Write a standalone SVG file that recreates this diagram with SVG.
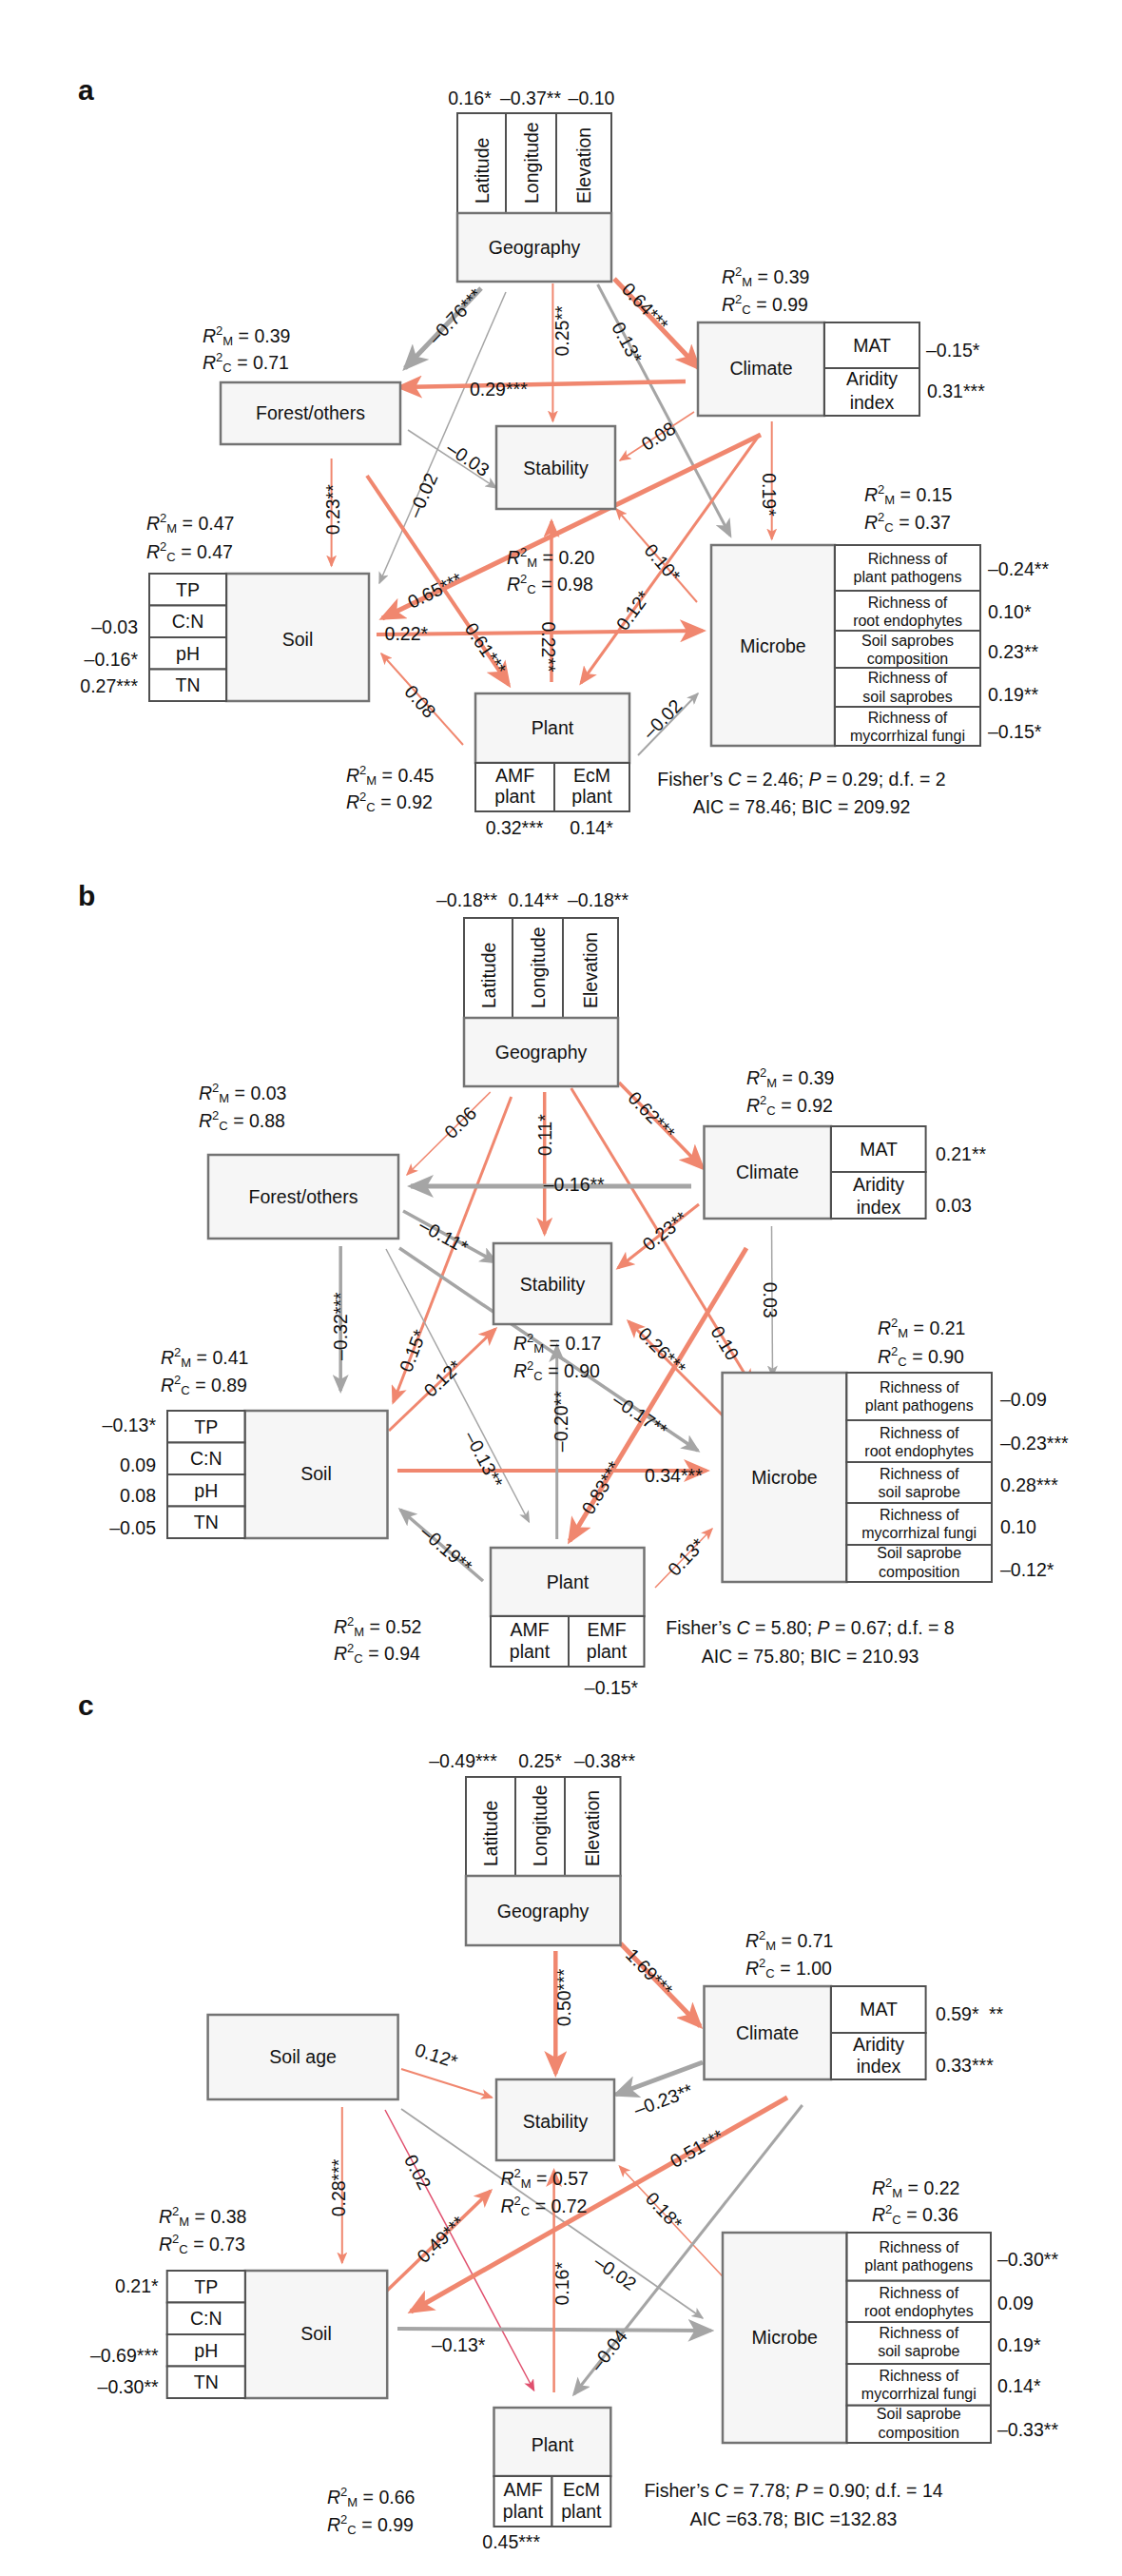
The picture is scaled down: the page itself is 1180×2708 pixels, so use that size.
<svg xmlns="http://www.w3.org/2000/svg" width="1180" height="2708" viewBox="0 0 1180 2708">
<style>
.t{font-family:"Liberation Sans",Arial,Helvetica,sans-serif;font-size:19.5px;fill:#111}
.c{text-anchor:middle}
.e{text-anchor:end}
.i{font-style:italic}
.sup{font-size:13px}
.r{font-size:16px}
.h{font-family:"Liberation Sans",Arial,sans-serif;font-size:30px;font-weight:bold;fill:#111}
.box{fill:#F6F6F6;stroke:#737373;stroke-width:2.5}
.cell{fill:#FFFFFF;stroke:#505050;stroke-width:2}
.s{stroke:#F0876F;fill:none}
.g{stroke:#A5A5A5;fill:none}
.p{stroke:#E0506E;fill:none}
</style>
<defs>
<marker id="sL" markerUnits="userSpaceOnUse" markerWidth="28" markerHeight="24" viewBox="0 0 28 24" refX="24" refY="12" orient="auto"><path d="M28,12 L0,0 L7,12 L0,24 Z" fill="#F0876F"/></marker>
<marker id="sM" markerUnits="userSpaceOnUse" markerWidth="20" markerHeight="17" viewBox="0 0 20 17" refX="17" refY="8.5" orient="auto"><path d="M20,8.5 L0,0 L5,8.5 L0,17 Z" fill="#F0876F"/></marker>
<marker id="sS" markerUnits="userSpaceOnUse" markerWidth="13" markerHeight="11" viewBox="0 0 13 11" refX="11.5" refY="5.5" orient="auto"><path d="M13,5.5 L0,0 L3.2,5.5 L0,11 Z" fill="#F0876F"/></marker>
<marker id="gL" markerUnits="userSpaceOnUse" markerWidth="28" markerHeight="24" viewBox="0 0 28 24" refX="24" refY="12" orient="auto"><path d="M28,12 L0,0 L7,12 L0,24 Z" fill="#A5A5A5"/></marker>
<marker id="gM" markerUnits="userSpaceOnUse" markerWidth="20" markerHeight="17" viewBox="0 0 20 17" refX="17" refY="8.5" orient="auto"><path d="M20,8.5 L0,0 L5,8.5 L0,17 Z" fill="#A5A5A5"/></marker>
<marker id="gS" markerUnits="userSpaceOnUse" markerWidth="13" markerHeight="11" viewBox="0 0 13 11" refX="11.5" refY="5.5" orient="auto"><path d="M13,5.5 L0,0 L3.2,5.5 L0,11 Z" fill="#A5A5A5"/></marker>
<marker id="pS" markerUnits="userSpaceOnUse" markerWidth="13" markerHeight="11" viewBox="0 0 13 11" refX="11.5" refY="5.5" orient="auto"><path d="M13,5.5 L0,0 L3.2,5.5 L0,11 Z" fill="#E0506E"/></marker>
</defs>
<rect x="0" y="0" width="1180" height="2708" fill="#FFFFFF"/>

<!-- ================= PANEL A ================= -->
<text class="h" x="82" y="105">a</text>
<g id="a-connectors">
<line class="g" x1="506" y1="303" x2="426" y2="387" stroke-width="5" marker-end="url(#gL)"/>
<line class="g" x1="532" y1="307" x2="399" y2="613" stroke-width="1.5" marker-end="url(#gS)"/>
<line class="s" x1="581.4" y1="298" x2="581.4" y2="443" stroke-width="2" marker-end="url(#sS)"/>
<line class="s" x1="646" y1="293" x2="735" y2="387" stroke-width="5" marker-end="url(#sL)"/>
<line class="g" x1="628.6" y1="299" x2="768" y2="563" stroke-width="3" marker-end="url(#gM)"/>
<line class="s" x1="721" y1="401" x2="420" y2="407" stroke-width="4.5" marker-end="url(#sL)"/>
<line class="s" x1="730" y1="433" x2="652" y2="484" stroke-width="1.5" marker-end="url(#sS)"/>
<line class="s" x1="811.7" y1="443" x2="811.7" y2="567" stroke-width="2" marker-end="url(#sS)"/>
<line class="s" x1="800" y1="457" x2="402" y2="650" stroke-width="5" marker-end="url(#sL)"/>
<line class="s" x1="798" y1="458" x2="611" y2="718" stroke-width="3" marker-end="url(#sM)"/>
<line class="g" x1="429" y1="452" x2="522" y2="513" stroke-width="1.5" stroke="#8C8C8C" marker-end="url(#gS)"/>
<line class="s" x1="348.6" y1="482" x2="348.6" y2="595" stroke-width="2" marker-end="url(#sS)"/>
<line class="s" x1="386" y1="500" x2="535" y2="720" stroke-width="4" marker-end="url(#sL)"/>
<line class="s" x1="396" y1="667" x2="739" y2="663" stroke-width="4" marker-end="url(#sL)"/>
<line class="s" x1="580" y1="717" x2="580" y2="548" stroke-width="3.5" marker-end="url(#sM)"/>
<line class="s" x1="487" y1="783" x2="401" y2="687" stroke-width="2" marker-end="url(#sS)"/>
<line class="g" x1="671" y1="794" x2="734" y2="729" stroke-width="2" stroke="#8C8C8C" marker-end="url(#gS)"/>
<line class="s" x1="733" y1="633" x2="648" y2="535" stroke-width="2" marker-end="url(#sS)"/>
</g>

<g id="a-geography">
<rect class="cell" x="481" y="119" width="51" height="105"/>
<rect class="cell" x="532" y="119" width="53" height="105"/>
<rect class="cell" x="585" y="119" width="58" height="105"/>
<rect class="box" x="481" y="224" width="162" height="72"/>
<text class="t" transform="translate(513.5,214) rotate(-90)">Latitude</text>
<text class="t" transform="translate(565.5,214) rotate(-90)">Longitude</text>
<text class="t" transform="translate(621,214) rotate(-90)">Elevation</text>
<text class="t c" x="562" y="267">Geography</text>
<text class="t c" x="494" y="110">0.16*</text>
<text class="t c" x="558" y="110">–0.37**</text>
<text class="t c" x="622" y="110">–0.10</text>
</g>
<g id="a-forest">
<rect class="box" x="232" y="402" width="189" height="65"/>
<text class="t c" x="326.5" y="441">Forest/others</text>
<text class="t" x="213" y="360"><tspan class="i">R</tspan><tspan class="sup" dy="-8">2</tspan><tspan class="sup" dy="11">M</tspan><tspan dy="-3"> = 0.39</tspan></text>
<text class="t" x="213" y="388"><tspan class="i">R</tspan><tspan class="sup" dy="-8">2</tspan><tspan class="sup" dy="11">C</tspan><tspan dy="-3"> = 0.71</tspan></text>
</g>
<g id="a-climate">
<rect class="box" x="734" y="339" width="133" height="98"/>
<rect class="cell" x="867" y="339" width="100" height="48"/>
<rect class="cell" x="867" y="387" width="100" height="50"/>
<text class="t c" x="800.5" y="394">Climate</text>
<text class="t c" x="917" y="370">MAT</text>
<text class="t c" x="917" y="405">Aridity</text>
<text class="t c" x="917" y="430">index</text>
<text class="t" x="974" y="375">–0.15*</text>
<text class="t" x="975" y="418">0.31***</text>
<text class="t" x="759" y="298"><tspan class="i">R</tspan><tspan class="sup" dy="-8">2</tspan><tspan class="sup" dy="11">M</tspan><tspan dy="-3"> = 0.39</tspan></text>
<text class="t" x="759" y="327"><tspan class="i">R</tspan><tspan class="sup" dy="-8">2</tspan><tspan class="sup" dy="11">C</tspan><tspan dy="-3"> = 0.99</tspan></text>
</g>
<g id="a-stability">
<rect class="box" x="522" y="448" width="125" height="87"/>
<text class="t c" x="584.5" y="498.5">Stability</text>
<text class="t" x="533" y="593"><tspan class="i">R</tspan><tspan class="sup" dy="-8">2</tspan><tspan class="sup" dy="11">M</tspan><tspan dy="-3"> = 0.20</tspan></text>
<text class="t" x="533" y="621"><tspan class="i">R</tspan><tspan class="sup" dy="-8">2</tspan><tspan class="sup" dy="11">C</tspan><tspan dy="-3"> = 0.98</tspan></text>
</g>
<g id="a-soil">
<rect class="box" x="238" y="603" width="150" height="134"/>
<rect class="cell" x="157" y="603" width="81" height="33.5"/>
<rect class="cell" x="157" y="636.5" width="81" height="33.5"/>
<rect class="cell" x="157" y="670" width="81" height="33.5"/>
<rect class="cell" x="157" y="703.5" width="81" height="33.5"/>
<text class="t c" x="197.5" y="627">TP</text>
<text class="t c" x="197.5" y="660">C:N</text>
<text class="t c" x="197.5" y="694">pH</text>
<text class="t c" x="197.5" y="727">TN</text>
<text class="t c" x="313" y="679">Soil</text>
<text class="t e" x="145" y="666">–0.03</text>
<text class="t e" x="145" y="700">–0.16*</text>
<text class="t e" x="145" y="728">0.27***</text>
<text class="t" x="154" y="557"><tspan class="i">R</tspan><tspan class="sup" dy="-8">2</tspan><tspan class="sup" dy="11">M</tspan><tspan dy="-3"> = 0.47</tspan></text>
<text class="t" x="154" y="587"><tspan class="i">R</tspan><tspan class="sup" dy="-8">2</tspan><tspan class="sup" dy="11">C</tspan><tspan dy="-3"> = 0.47</tspan></text>
</g>
<g id="a-plant">
<rect class="box" x="500" y="729" width="162" height="73"/>
<rect class="cell" x="500" y="802" width="83" height="51"/>
<rect class="cell" x="583" y="802" width="79" height="51"/>
<text class="t c" x="581" y="772">Plant</text>
<text class="t c" x="541.5" y="822">AMF</text>
<text class="t c" x="541.5" y="844">plant</text>
<text class="t c" x="622.5" y="822">EcM</text>
<text class="t c" x="622.5" y="844">plant</text>
<text class="t c" x="541" y="877">0.32***</text>
<text class="t c" x="622" y="877">0.14*</text>
<text class="t" x="364" y="822"><tspan class="i">R</tspan><tspan class="sup" dy="-8">2</tspan><tspan class="sup" dy="11">M</tspan><tspan dy="-3"> = 0.45</tspan></text>
<text class="t" x="364" y="850"><tspan class="i">R</tspan><tspan class="sup" dy="-8">2</tspan><tspan class="sup" dy="11">C</tspan><tspan dy="-3"> = 0.92</tspan></text>
</g>
<g id="a-microbe">
<rect class="box" x="748" y="573" width="130" height="211"/>
<rect class="cell" x="878" y="573" width="153" height="48"/>
<rect class="cell" x="878" y="621" width="153" height="42"/>
<rect class="cell" x="878" y="663" width="153" height="39"/>
<rect class="cell" x="878" y="702" width="153" height="41"/>
<rect class="cell" x="878" y="743" width="153" height="41"/>
<text class="t r c" x="954.5" y="592.7">Richness of</text>
<text class="t r c" x="954.5" y="611.7">plant pathogens</text>
<text class="t r c" x="954.5" y="639.3">Richness of</text>
<text class="t r c" x="954.5" y="658.3">root endophytes</text>
<text class="t r c" x="954.5" y="679.3">Soil saprobes</text>
<text class="t r c" x="954.5" y="698.3">composition</text>
<text class="t r c" x="954.5" y="718.3">Richness of</text>
<text class="t r c" x="954.5" y="738.3">soil saprobes</text>
<text class="t r c" x="954.5" y="760">Richness of</text>
<text class="t r c" x="954.5" y="779.3">mycorrhizal fungi</text>
<text class="t c" x="813" y="686">Microbe</text>
<text class="t" x="1039" y="605">–0.24**</text>
<text class="t" x="1039" y="650">0.10*</text>
<text class="t" x="1039" y="692">0.23**</text>
<text class="t" x="1039" y="737">0.19**</text>
<text class="t" x="1039" y="776">–0.15*</text>
<text class="t" x="909" y="527"><tspan class="i">R</tspan><tspan class="sup" dy="-8">2</tspan><tspan class="sup" dy="11">M</tspan><tspan dy="-3"> = 0.15</tspan></text>
<text class="t" x="909" y="556"><tspan class="i">R</tspan><tspan class="sup" dy="-8">2</tspan><tspan class="sup" dy="11">C</tspan><tspan dy="-3"> = 0.37</tspan></text>
</g>
<g id="a-fit">
<text class="t c" x="843" y="826">Fisher’s <tspan class="i">C</tspan> = 2.46; <tspan class="i">P</tspan> = 0.29; d.f. = 2</text>
<text class="t c" x="843" y="855">AIC = 78.46; BIC = 209.92</text>
</g>
<g id="a-edge-labels">
<text class="t c" transform="translate(478.6,332.3) rotate(-46.4)" y="7">–0.76***</text>
<text class="t c" transform="translate(444.6,520.7) rotate(-66.5)" y="7">–0.02</text>
<text class="t c" transform="translate(591,348) rotate(-90)" y="7">0.25**</text>
<text class="t c" transform="translate(678.6,322.3) rotate(46.7)" y="7">0.64***</text>
<text class="t c" transform="translate(659.6,360) rotate(62.2)" y="7">0.13*</text>
<text class="t" x="494" y="416">0.29***</text>
<text class="t c" transform="translate(692.3,458.3) rotate(-33)" y="7">0.08</text>
<text class="t c" transform="translate(809,520) rotate(90)" y="7">0.19*</text>
<text class="t c" transform="translate(457.3,620.7) rotate(-25.9)" y="7">0.65***</text>
<text class="t c" transform="translate(665.7,641.7) rotate(-54.3)" y="7">0.12*</text>
<text class="t c" transform="translate(492.3,482.3) rotate(33.7)" y="7">–0.03</text>
<text class="t c" transform="translate(350,535.8) rotate(-90)" y="7">0.23**</text>
<text class="t c" transform="translate(510.7,681.7) rotate(55.9)" y="7">0.61***</text>
<text class="t" x="404.6" y="673">0.22*</text>
<text class="t c" transform="translate(577,680) rotate(90)" y="7">0.22**</text>
<text class="t c" transform="translate(442.1,737.3) rotate(48.4)" y="7">0.08</text>
<text class="t c" transform="translate(696.4,755.7) rotate(-45.6)" y="7">–0.02</text>
<text class="t c" transform="translate(696.7,591.7) rotate(49)" y="7">0.10*</text>
</g>

<!-- ================= PANEL B ================= -->
<text class="h" x="82" y="952">b</text>
<g id="b-connectors">
<line class="s" x1="515.7" y1="1148" x2="428" y2="1235" stroke-width="1.5" marker-end="url(#sS)"/>
<line class="s" x1="537.7" y1="1153" x2="413.6" y2="1474" stroke-width="3" marker-end="url(#sM)"/>
<line class="s" x1="572.7" y1="1148" x2="572.7" y2="1297" stroke-width="3.5" marker-end="url(#sM)"/>
<line class="s" x1="651" y1="1138" x2="739" y2="1228" stroke-width="3.5" marker-end="url(#sL)"/>
<line class="s" x1="600.7" y1="1144" x2="791" y2="1457" stroke-width="3" marker-end="url(#sM)"/>
<line class="g" x1="727" y1="1247" x2="432" y2="1247" stroke-width="5" marker-end="url(#gL)"/>
<line class="s" x1="735" y1="1266" x2="650" y2="1333" stroke-width="3" marker-end="url(#sM)"/>
<line class="g" x1="811.5" y1="1289" x2="812.5" y2="1447" stroke-width="1.5" marker-end="url(#gS)"/>
<line class="g" x1="358.2" y1="1310" x2="358.2" y2="1462" stroke-width="3.5" marker-end="url(#gM)"/>
<line class="g" x1="424" y1="1273" x2="522" y2="1327" stroke-width="3.5" marker-end="url(#gM)"/>
<line class="g" x1="420" y1="1312" x2="734" y2="1525" stroke-width="3.5" marker-end="url(#gM)"/>
<line class="g" x1="406" y1="1313" x2="556.4" y2="1600" stroke-width="1.5" marker-end="url(#gS)"/>
<line class="s" x1="409" y1="1504" x2="521" y2="1397" stroke-width="3" marker-end="url(#sM)"/>
<line class="s" x1="418" y1="1546" x2="743" y2="1546" stroke-width="4" marker-end="url(#sL)"/>
<line class="g" x1="508" y1="1662" x2="421" y2="1587" stroke-width="3.5" marker-end="url(#gM)"/>
<line class="g" x1="585.7" y1="1618" x2="585.7" y2="1415" stroke-width="3" marker-end="url(#gM)"/>
<line class="s" x1="785" y1="1312" x2="599" y2="1620" stroke-width="5" marker-end="url(#sL)"/>
<line class="s" x1="764" y1="1492" x2="661" y2="1389" stroke-width="3" marker-end="url(#sM)"/>
<line class="s" x1="689" y1="1669" x2="749" y2="1607" stroke-width="1.5" marker-end="url(#sS)"/>
</g>
<g id="b-geography">
<rect class="cell" x="488" y="965" width="51" height="105"/>
<rect class="cell" x="539" y="965" width="53" height="105"/>
<rect class="cell" x="592" y="965" width="58" height="105"/>
<rect class="box" x="488" y="1070" width="162" height="72"/>
<text class="t" transform="translate(520.5,1060) rotate(-90)">Latitude</text>
<text class="t" transform="translate(572.5,1060) rotate(-90)">Longitude</text>
<text class="t" transform="translate(628,1060) rotate(-90)">Elevation</text>
<text class="t c" x="569" y="1113">Geography</text>
<text class="t c" x="491" y="953">–0.18**</text>
<text class="t c" x="561" y="953">0.14**</text>
<text class="t c" x="629" y="953">–0.18**</text>
</g>
<g id="b-forest">
<rect class="box" x="219" y="1214" width="200" height="88"/>
<text class="t c" x="319" y="1265">Forest/others</text>
<text class="t" x="209" y="1156"><tspan class="i">R</tspan><tspan class="sup" dy="-8">2</tspan><tspan class="sup" dy="11">M</tspan><tspan dy="-3"> = 0.03</tspan></text>
<text class="t" x="209" y="1185"><tspan class="i">R</tspan><tspan class="sup" dy="-8">2</tspan><tspan class="sup" dy="11">C</tspan><tspan dy="-3"> = 0.88</tspan></text>
</g>
<g id="b-climate">
<rect class="box" x="740.5" y="1184" width="133.5" height="97"/>
<rect class="cell" x="874" y="1184" width="99.6" height="48"/>
<rect class="cell" x="874" y="1232" width="99.6" height="49"/>
<text class="t c" x="807" y="1239">Climate</text>
<text class="t c" x="924" y="1215">MAT</text>
<text class="t c" x="924" y="1252">Aridity</text>
<text class="t c" x="924" y="1276">index</text>
<text class="t" x="984" y="1220">0.21**</text>
<text class="t" x="984" y="1274">0.03</text>
<text class="t" x="785" y="1140"><tspan class="i">R</tspan><tspan class="sup" dy="-8">2</tspan><tspan class="sup" dy="11">M</tspan><tspan dy="-3"> = 0.39</tspan></text>
<text class="t" x="785" y="1169"><tspan class="i">R</tspan><tspan class="sup" dy="-8">2</tspan><tspan class="sup" dy="11">C</tspan><tspan dy="-3"> = 0.92</tspan></text>
</g>
<g id="b-stability">
<rect class="box" x="519" y="1307" width="124" height="85"/>
<text class="t c" x="581" y="1356.5">Stability</text>
<text class="t" x="540" y="1419"><tspan class="i">R</tspan><tspan class="sup" dy="-8">2</tspan><tspan class="sup" dy="11">M</tspan><tspan dy="-3"> = 0.17</tspan></text>
<text class="t" x="540" y="1448"><tspan class="i">R</tspan><tspan class="sup" dy="-8">2</tspan><tspan class="sup" dy="11">C</tspan><tspan dy="-3"> = 0.90</tspan></text>
</g>
<g id="b-soil">
<rect class="box" x="257.5" y="1483" width="150" height="134"/>
<rect class="cell" x="176" y="1483" width="81.5" height="33.5"/>
<rect class="cell" x="176" y="1516.5" width="81.5" height="33.5"/>
<rect class="cell" x="176" y="1550" width="81.5" height="33.5"/>
<rect class="cell" x="176" y="1583.5" width="81.5" height="33.5"/>
<text class="t c" x="216.8" y="1507">TP</text>
<text class="t c" x="216.8" y="1540">C:N</text>
<text class="t c" x="216.8" y="1574">pH</text>
<text class="t c" x="216.8" y="1607">TN</text>
<text class="t c" x="332.5" y="1556">Soil</text>
<text class="t e" x="164" y="1505">–0.13*</text>
<text class="t e" x="164" y="1547">0.09</text>
<text class="t e" x="164" y="1579">0.08</text>
<text class="t e" x="164" y="1613">–0.05</text>
<text class="t" x="169" y="1434"><tspan class="i">R</tspan><tspan class="sup" dy="-8">2</tspan><tspan class="sup" dy="11">M</tspan><tspan dy="-3"> = 0.41</tspan></text>
<text class="t" x="169" y="1463"><tspan class="i">R</tspan><tspan class="sup" dy="-8">2</tspan><tspan class="sup" dy="11">C</tspan><tspan dy="-3"> = 0.89</tspan></text>
</g>
<g id="b-plant">
<rect class="box" x="516" y="1627" width="161.5" height="72"/>
<rect class="cell" x="516" y="1699" width="82" height="53"/>
<rect class="cell" x="598" y="1699" width="79.5" height="53"/>
<text class="t c" x="597" y="1670">Plant</text>
<text class="t c" x="557" y="1720">AMF</text>
<text class="t c" x="557" y="1743">plant</text>
<text class="t c" x="638" y="1720">EMF</text>
<text class="t c" x="638" y="1743">plant</text>
<text class="t c" x="643" y="1781">–0.15*</text>
<text class="t" x="351" y="1717"><tspan class="i">R</tspan><tspan class="sup" dy="-8">2</tspan><tspan class="sup" dy="11">M</tspan><tspan dy="-3"> = 0.52</tspan></text>
<text class="t" x="351" y="1745"><tspan class="i">R</tspan><tspan class="sup" dy="-8">2</tspan><tspan class="sup" dy="11">C</tspan><tspan dy="-3"> = 0.94</tspan></text>
</g>
<g id="b-microbe">
<rect class="box" x="759.6" y="1443" width="130.8" height="220"/>
<rect class="cell" x="890.4" y="1443" width="152.6" height="50"/>
<rect class="cell" x="890.4" y="1493" width="152.6" height="44"/>
<rect class="cell" x="890.4" y="1537" width="152.6" height="43"/>
<rect class="cell" x="890.4" y="1580" width="152.6" height="44"/>
<rect class="cell" x="890.4" y="1624" width="152.6" height="39"/>
<text class="t r c" x="966.7" y="1464">Richness of</text>
<text class="t r c" x="966.7" y="1483">plant pathogens</text>
<text class="t r c" x="966.7" y="1512">Richness of</text>
<text class="t r c" x="966.7" y="1531">root endophytes</text>
<text class="t r c" x="966.7" y="1555">Richness of</text>
<text class="t r c" x="966.7" y="1574">soil saprobe</text>
<text class="t r c" x="966.7" y="1598">Richness of</text>
<text class="t r c" x="966.7" y="1617">mycorrhizal fungi</text>
<text class="t r c" x="966.7" y="1638">Soil saprobe</text>
<text class="t r c" x="966.7" y="1658">composition</text>
<text class="t c" x="825" y="1560">Microbe</text>
<text class="t" x="1052" y="1478">–0.09</text>
<text class="t" x="1052" y="1524">–0.23***</text>
<text class="t" x="1052" y="1568">0.28***</text>
<text class="t" x="1052" y="1612">0.10</text>
<text class="t" x="1052" y="1657">–0.12*</text>
<text class="t" x="923" y="1403"><tspan class="i">R</tspan><tspan class="sup" dy="-8">2</tspan><tspan class="sup" dy="11">M</tspan><tspan dy="-3"> = 0.21</tspan></text>
<text class="t" x="923" y="1433"><tspan class="i">R</tspan><tspan class="sup" dy="-8">2</tspan><tspan class="sup" dy="11">C</tspan><tspan dy="-3"> = 0.90</tspan></text>
</g>
<g id="b-fit">
<text class="t c" x="852" y="1718">Fisher’s <tspan class="i">C</tspan> = 5.80; <tspan class="i">P</tspan> = 0.67; d.f. = 8</text>
<text class="t c" x="852" y="1748">AIC = 75.80; BIC = 210.93</text>
</g>
<g id="b-edge-labels">
<text class="t c" transform="translate(484,1180) rotate(-44.8)" y="7">0.06</text>
<text class="t c" transform="translate(433.9,1420) rotate(-68.9)" y="7">0.15*</text>
<text class="t c" transform="translate(572.5,1193.3) rotate(-90)" y="7">0.11*</text>
<text class="t c" transform="translate(685.4,1172.3) rotate(45.7)" y="7">0.62***</text>
<text class="t c" transform="translate(762.5,1411.7) rotate(58.7)" y="7">0.10</text>
<text class="t" x="571.7" y="1252">–0.16**</text>
<text class="t c" transform="translate(699.2,1294) rotate(-38.1)" y="7">0.23**</text>
<text class="t c" transform="translate(810,1366.7) rotate(90)" y="7">0.03</text>
<text class="t c" transform="translate(357.5,1394.2) rotate(-90)" y="7">–0.32***</text>
<text class="t c" transform="translate(466.7,1299) rotate(28.6)" y="7">–0.11*</text>
<text class="t c" transform="translate(673.2,1487.3) rotate(34.2)" y="7">–0.17**</text>
<text class="t c" transform="translate(508.9,1534) rotate(62.3)" y="7">–0.13**</text>
<text class="t c" transform="translate(465.4,1449) rotate(-43.9)" y="7">0.12*</text>
<text class="t" x="678" y="1558">0.34***</text>
<text class="t c" transform="translate(469.6,1628.3) rotate(40.6)" y="7">–0.19**</text>
<text class="t c" transform="translate(589.5,1494.2) rotate(-90)" y="7">–0.20**</text>
<text class="t c" transform="translate(632.1,1564) rotate(-58.9)" y="7">0.83***</text>
<text class="t c" transform="translate(696.4,1420) rotate(44.7)" y="7">0.26***</text>
<text class="t c" transform="translate(721.4,1636.7) rotate(-46.3)" y="7">0.13*</text>
</g>

<!-- ================= PANEL C ================= -->
<text class="h" x="82" y="1803">c</text>
<g id="c-connectors">
<line class="s" x1="584.3" y1="2051" x2="584.3" y2="2180" stroke-width="4.5" marker-end="url(#sL)"/>
<line class="s" x1="652.5" y1="2043" x2="736.4" y2="2130" stroke-width="5" marker-end="url(#sL)"/>
<line class="s" x1="422" y1="2175" x2="517.5" y2="2205" stroke-width="2" marker-end="url(#sS)"/>
<line class="g" x1="739" y1="2168" x2="647.5" y2="2202" stroke-width="5" marker-end="url(#gL)"/>
<line class="s" x1="359.8" y1="2215" x2="359.8" y2="2379" stroke-width="2" marker-end="url(#sS)"/>
<line class="p" x1="405" y1="2218" x2="561.6" y2="2513" stroke-width="1.5" marker-end="url(#pS)"/>
<line class="g" x1="422" y1="2217" x2="739" y2="2437" stroke-width="1.8" marker-end="url(#gS)"/>
<line class="s" x1="407" y1="2408" x2="516" y2="2303" stroke-width="3.5" marker-end="url(#sM)"/>
<line class="s" x1="828" y1="2205" x2="432" y2="2430" stroke-width="5" marker-end="url(#sL)"/>
<line class="g" x1="418" y1="2448" x2="747.5" y2="2450" stroke-width="4" marker-end="url(#gL)"/>
<line class="s" x1="582.6" y1="2515" x2="582.6" y2="2282" stroke-width="2.5" marker-end="url(#sM)"/>
<line class="s" x1="763.6" y1="2397" x2="651.4" y2="2277" stroke-width="1.5" marker-end="url(#sS)"/>
<line class="g" x1="843.8" y1="2213" x2="603.7" y2="2517" stroke-width="3" marker-end="url(#gM)"/>
</g>
<g id="c-geography">
<rect class="cell" x="490" y="1868" width="52" height="104"/>
<rect class="cell" x="542" y="1868" width="52" height="104"/>
<rect class="cell" x="594" y="1868" width="58.5" height="104"/>
<rect class="box" x="490" y="1972" width="162.5" height="73"/>
<text class="t" transform="translate(523,1962) rotate(-90)">Latitude</text>
<text class="t" transform="translate(575,1962) rotate(-90)">Longitude</text>
<text class="t" transform="translate(630,1962) rotate(-90)">Elevation</text>
<text class="t c" x="571" y="2016">Geography</text>
<text class="t c" x="487" y="1858">–0.49***</text>
<text class="t c" x="568" y="1858">0.25*</text>
<text class="t c" x="636" y="1858">–0.38**</text>
</g>
<g id="c-soilage">
<rect class="box" x="218.6" y="2118" width="200" height="89"/>
<text class="t c" x="318.6" y="2169">Soil age</text>
</g>
<g id="c-climate">
<rect class="box" x="740.5" y="2088" width="133.5" height="98"/>
<rect class="cell" x="874" y="2088" width="99.6" height="49"/>
<rect class="cell" x="874" y="2137" width="99.6" height="49"/>
<text class="t c" x="807" y="2143.5">Climate</text>
<text class="t c" x="924" y="2119">MAT</text>
<text class="t c" x="924" y="2156">Aridity</text>
<text class="t c" x="924" y="2179">index</text>
<text class="t" x="984" y="2124">0.59* <tspan dx="5">**</tspan></text>
<text class="t" x="984" y="2178">0.33***</text>
<text class="t" x="784" y="2047"><tspan class="i">R</tspan><tspan class="sup" dy="-8">2</tspan><tspan class="sup" dy="11">M</tspan><tspan dy="-3"> = 0.71</tspan></text>
<text class="t" x="784" y="2076"><tspan class="i">R</tspan><tspan class="sup" dy="-8">2</tspan><tspan class="sup" dy="11">C</tspan><tspan dy="-3"> = 1.00</tspan></text>
</g>
<g id="c-stability">
<rect class="box" x="522" y="2186" width="124" height="85"/>
<text class="t c" x="584" y="2237">Stability</text>
<text class="t" x="526.5" y="2297"><tspan class="i">R</tspan><tspan class="sup" dy="-8">2</tspan><tspan class="sup" dy="11">M</tspan><tspan dy="-3"> = 0.57</tspan></text>
<text class="t" x="526.5" y="2326"><tspan class="i">R</tspan><tspan class="sup" dy="-8">2</tspan><tspan class="sup" dy="11">C</tspan><tspan dy="-3"> = 0.72</tspan></text>
</g>
<g id="c-soil">
<rect class="box" x="257.8" y="2387" width="149.4" height="134"/>
<rect class="cell" x="175.7" y="2387" width="82.1" height="33.5"/>
<rect class="cell" x="175.7" y="2420.5" width="82.1" height="33.5"/>
<rect class="cell" x="175.7" y="2454" width="82.1" height="33.5"/>
<rect class="cell" x="175.7" y="2487.5" width="82.1" height="33.5"/>
<text class="t c" x="216.8" y="2411">TP</text>
<text class="t c" x="216.8" y="2444">C:N</text>
<text class="t c" x="216.8" y="2478">pH</text>
<text class="t c" x="216.8" y="2511">TN</text>
<text class="t c" x="332.5" y="2460">Soil</text>
<text class="t e" x="166.6" y="2410">0.21*</text>
<text class="t e" x="166.6" y="2483">–0.69***</text>
<text class="t e" x="166.6" y="2516">–0.30**</text>
<text class="t" x="167" y="2337"><tspan class="i">R</tspan><tspan class="sup" dy="-8">2</tspan><tspan class="sup" dy="11">M</tspan><tspan dy="-3"> = 0.38</tspan></text>
<text class="t" x="167" y="2366"><tspan class="i">R</tspan><tspan class="sup" dy="-8">2</tspan><tspan class="sup" dy="11">C</tspan><tspan dy="-3"> = 0.73</tspan></text>
</g>
<g id="c-plant">
<rect class="box" x="519.5" y="2531" width="122.8" height="72"/>
<rect class="cell" x="519.5" y="2603" width="61" height="53"/>
<rect class="cell" x="580.5" y="2603" width="61.8" height="53"/>
<text class="t c" x="581" y="2577">Plant</text>
<text class="t c" x="550" y="2624">AMF</text>
<text class="t c" x="550" y="2647">plant</text>
<text class="t c" x="611.4" y="2624">EcM</text>
<text class="t c" x="611.4" y="2647">plant</text>
<text class="t c" x="537.7" y="2679">0.45***</text>
<text class="t" x="344" y="2632"><tspan class="i">R</tspan><tspan class="sup" dy="-8">2</tspan><tspan class="sup" dy="11">M</tspan><tspan dy="-3"> = 0.66</tspan></text>
<text class="t" x="344" y="2661"><tspan class="i">R</tspan><tspan class="sup" dy="-8">2</tspan><tspan class="sup" dy="11">C</tspan><tspan dy="-3"> = 0.99</tspan></text>
</g>
<g id="c-microbe">
<rect class="box" x="760" y="2347" width="130.6" height="221"/>
<rect class="cell" x="890.6" y="2347" width="151.4" height="50.7"/>
<rect class="cell" x="890.6" y="2397.7" width="151.4" height="43.3"/>
<rect class="cell" x="890.6" y="2441" width="151.4" height="44"/>
<rect class="cell" x="890.6" y="2485" width="151.4" height="43.7"/>
<rect class="cell" x="890.6" y="2528.7" width="151.4" height="39.3"/>
<text class="t r c" x="966.3" y="2368">Richness of</text>
<text class="t r c" x="966.3" y="2387">plant pathogens</text>
<text class="t r c" x="966.3" y="2416">Richness of</text>
<text class="t r c" x="966.3" y="2435">root endophytes</text>
<text class="t r c" x="966.3" y="2458">Richness of</text>
<text class="t r c" x="966.3" y="2477">soil saprobe</text>
<text class="t r c" x="966.3" y="2503">Richness of</text>
<text class="t r c" x="966.3" y="2522">mycorrhizal fungi</text>
<text class="t r c" x="966.3" y="2543">Soil saprobe</text>
<text class="t r c" x="966.3" y="2563">composition</text>
<text class="t c" x="825.3" y="2464">Microbe</text>
<text class="t" x="1049" y="2382">–0.30**</text>
<text class="t" x="1049" y="2428">0.09</text>
<text class="t" x="1049" y="2472">0.19*</text>
<text class="t" x="1049" y="2515">0.14*</text>
<text class="t" x="1049" y="2561">–0.33**</text>
<text class="t" x="917" y="2307"><tspan class="i">R</tspan><tspan class="sup" dy="-8">2</tspan><tspan class="sup" dy="11">M</tspan><tspan dy="-3"> = 0.22</tspan></text>
<text class="t" x="917" y="2335"><tspan class="i">R</tspan><tspan class="sup" dy="-8">2</tspan><tspan class="sup" dy="11">C</tspan><tspan dy="-3"> = 0.36</tspan></text>
</g>
<g id="c-fit">
<text class="t c" x="834.5" y="2625">Fisher’s <tspan class="i">C</tspan> = 7.78; <tspan class="i">P</tspan> = 0.90; d.f. = 14</text>
<text class="t c" x="834.5" y="2655">AIC =63.78; BIC =132.83</text>
</g>
<g id="c-edge-labels">
<text class="t c" transform="translate(593.4,2100) rotate(-90)" y="7">0.50***</text>
<text class="t c" transform="translate(683,2073.3) rotate(45.9)" y="7">1.69***</text>
<text class="t c" transform="translate(458.9,2160.7) rotate(17.5)" y="7">0.12*</text>
<text class="t c" transform="translate(697.5,2207.3) rotate(-20.1)" y="7">–0.23**</text>
<text class="t c" transform="translate(356.4,2300) rotate(-90)" y="7">0.28***</text>
<text class="t c" transform="translate(439.5,2283.3) rotate(62.1)" y="7">0.02</text>
<text class="t c" transform="translate(647.2,2389) rotate(34.8)" y="7">–0.02</text>
<text class="t c" transform="translate(463.4,2354) rotate(-44)" y="7">0.49***</text>
<text class="t c" transform="translate(732.7,2258.3) rotate(-29.6)" y="7">0.51***</text>
<text class="t" x="454" y="2472">–0.13*</text>
<text class="t c" transform="translate(591.4,2400.8) rotate(-90)" y="7">0.16*</text>
<text class="t c" transform="translate(698.4,2324) rotate(46.9)" y="7">0.18*</text>
<text class="t c" transform="translate(640.1,2470.7) rotate(-51.6)" y="7">–0.04</text>
</g>
</svg>
